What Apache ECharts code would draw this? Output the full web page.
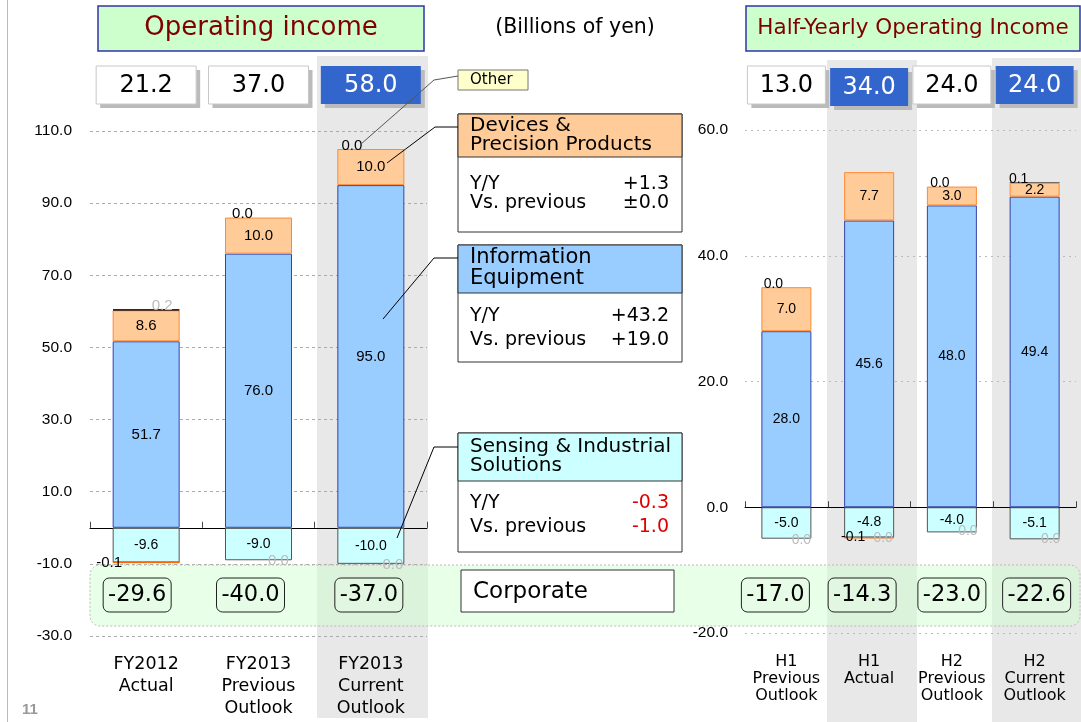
<!DOCTYPE html>
<html><head><meta charset="utf-8">
<script src="https://cdn.jsdelivr.net/npm/echarts@6/dist/echarts.min.js"></script>
<style>html,body{margin:0;padding:0;background:#fff}#c{width:1081px;height:722px}</style>
</head><body><div id="c"></div>
<script>
// ---------- data ----------
const leftCategories = ['FY2012\nActual', 'FY2013\nPrevious\nOutlook', 'FY2013\nCurrent\nOutlook'];
const rightCategories = ['H1\nPrevious\nOutlook', 'H1\nActual', 'H2\nPrevious\nOutlook', 'H2\nCurrent\nOutlook'];
const leftInfo = [51.7, 76.0, 95.0];
const leftDevices = [8.6, 10.0, 10.0];
const leftOther = [0.2, 0.0, 0.0];
const leftSensing = [-9.6, -9.0, -10.0];
const leftDevicesNeg = [-0.1, null, null];
const leftOtherNeg = [null, 0.0, 0.0];
const leftTotals = [21.2, 37.0, 58.0];
const leftCorporate = [-29.6, -40.0, -37.0];
const rightInfo = [28.0, 45.6, 48.0, 49.4];
const rightDevices = [7.0, 7.7, 3.0, 2.2];
const rightOther = [0.0, null, 0.0, 0.1];
const rightSensing = [-5.0, -4.8, -4.0, -5.1];
const rightDevicesNeg = [null, -0.1, null, null];
const rightOtherNeg = [0.0, 0.0, 0.0, 0.0];
const rightTotals = [13.0, 34.0, 24.0, 24.0];
const rightCorporate = [-17.0, -14.3, -23.0, -22.6];
const leftTicks = [-30, -10, 10, 30, 50, 70, 90, 110];
const rightTicks = [-20, 0, 20, 40, 60];
const devicesChange = ['+1.3', '±0.0'];
const infoChange = ['+43.2', '+19.0'];
const sensingChange = ['-0.3', '-1.0'];

// ---------- styles ----------
const DV = 'DejaVu Sans';
const AR = 'Liberation Sans, Arial';
const leftOtherOffset = [[16, 4], [-16, 4], [-19, 4]];
const leftOtherColor = ['#bbb', '#000', '#000'];
const leftOtherBorder = [1, 0, 0];
const leftDevNegOffset = [[-37, 0], null, null];
const leftOtherNegOffset = [null, [20, 1], [22, 1]];
const rightOtherOffset = [[-13, 4], null, [-12, 4], [-16, 4]];
const rightOtherColor = ['#000', '#000', '#000', '#000'];
const rightOtherBorder = [0, 0, 0, 0];
const rightDevNegOffset = [null, [-16, -1], null, null];
const rightOtherNegOffset = [[15, 1], [14, 0], [16, -1], [16, 0]];
const leftHighlight = [false, false, true];
const rightHighlight = [false, true, false, true];
const rightBoxDrop = [0, 2, 0, 0];
const leftCorpShift = [-9, -8, -2];
const rightCorpShift = [-11, -7, 0, 2];

const chart = echarts.init(document.getElementById('c'), null, {renderer: 'canvas'});

const fmt = p => (+p.value).toFixed(1);
function items(values, offsets, colors, borders) {
  return values.map((v, i) => {
    if (v == null) return '-';
    const it = {value: v};
    it.label = {};
    if (offsets && offsets[i]) it.label.offset = offsets[i];
    if (colors) it.label.color = colors[i];
    if (borders && borders[i]) it.itemStyle = {borderColor: '#000', borderWidth: borders[i]};
    return it;
  });
}
function bar(name, data, xi, yi, bw, style, label) {
  return {type: 'bar', name, data, xAxisIndex: xi, yAxisIndex: yi, stack: 'st' + yi, barWidth: bw,
    itemStyle: style, label: Object.assign({show: true, position: 'inside', fontFamily: AR, color: '#000', formatter: fmt}, label),
    emphasis: {disabled: true}, silent: true, animation: false};
}
const sInfo = {color: '#99ccff', borderColor: '#3344aa', borderWidth: 1};
const sDev = {color: '#ffcc99', borderColor: '#ff8833', borderWidth: 1};
const sOther = {color: '#000', borderWidth: 0};
const sSens = {color: '#ccffff', borderColor: '#555', borderWidth: 1};
const sDevNeg = {color: '#ff6600', borderColor: '#ff6600', borderWidth: 1};
const sOtherNeg = {color: 'rgba(0,0,0,0)', borderWidth: 0};

function seriesFor(xi, yi, bw, fs, d) {
  return [
    bar('Information Equipment', d.info, xi, yi, bw, sInfo, {fontSize: fs}),
    bar('Devices & Precision Products', d.dev, xi, yi, bw, sDev, {fontSize: fs}),
    bar('Other', items(d.other, d.otherOff, d.otherCol, d.otherBorder), xi, yi, bw, sOther, {position: 'top', distance: 0, fontSize: fs}),
    bar('Sensing & Industrial Solutions', d.sens, xi, yi, bw, sSens, {fontSize: 14}),
    bar('Devices & Precision Products (neg)', items(d.devNeg, d.devNegOff), xi, yi, bw, sDevNeg, {fontSize: fs}),
    bar('Other (neg)', items(d.otherNeg, d.otherNegOff), xi, yi, bw, sOtherNeg, {fontSize: fs, color: '#bbb'})
  ];
}

function xAxes(grid, cats, fs, lh, margin) {
  return [
    {type: 'category', gridIndex: grid, data: cats, position: 'top',
      axisLine: {onZero: true, lineStyle: {color: '#000', width: 1}},
      axisTick: {show: true, length: 6, lineStyle: {color: '#444'}},
      axisLabel: {show: false}, splitLine: {show: false}},
    {type: 'category', gridIndex: grid, data: cats, position: 'bottom',
      axisLine: {show: false, onZero: false}, axisTick: {show: false}, splitLine: {show: false},
      axisLabel: {interval: 0, color: '#000', fontSize: fs, lineHeight: lh, fontFamily: DV, margin: margin}}
  ];
}
function yAxis(grid, ticks, color, dash, margin) {
  return {type: 'value', gridIndex: grid, min: ticks[0], max: ticks[ticks.length - 1], interval: ticks[1] - ticks[0],
    axisLine: {show: false}, axisTick: {show: false},
    axisLabel: {formatter: v => v.toFixed(1), color: '#000', fontSize: 15.5, fontFamily: AR, margin: margin},
    splitLine: {show: true, lineStyle: {color: color, type: dash, width: 1}}};
}

chart.setOption({
  backgroundColor: '#fff',
  animation: false,
  grid: [
    {left: 90, top: 131, width: 337, height: 505, containLabel: false, outerBoundsMode: 'none'},
    {left: 745, top: 130, width: 331, height: 503, containLabel: false, outerBoundsMode: 'none'}
  ],
  xAxis: [].concat(xAxes(0, leftCategories, 17.5, 22, 17), xAxes(1, rightCategories, 16, 17, 20)),
  yAxis: [yAxis(0, leftTicks, '#aaa', [3, 3], 18), yAxis(1, rightTicks, '#bbb', [2, 4], 17)],
  series: [].concat(
    seriesFor(0, 0, 67, 15, {info: leftInfo, dev: leftDevices, other: leftOther, otherOff: leftOtherOffset, otherCol: leftOtherColor, otherBorder: leftOtherBorder,
      sens: leftSensing, devNeg: leftDevicesNeg, devNegOff: leftDevNegOffset, otherNeg: leftOtherNeg, otherNegOff: leftOtherNegOffset}),
    seriesFor(2, 1, 50, 14, {info: rightInfo, dev: rightDevices, other: rightOther, otherOff: rightOtherOffset, otherCol: rightOtherColor, otherBorder: rightOtherBorder,
      sens: rightSensing, devNeg: rightDevicesNeg, devNegOff: rightDevNegOffset, otherNeg: rightOtherNeg, otherNegOff: rightOtherNegOffset})
  )
});

// ---------- decorations ----------
function T(text, x, y, size, opts) {
  const o = Object.assign({align: 'left', verticalAlign: 'middle', fill: '#000', fontFamily: DV}, opts || {});
  return {type: 'text', z: 20, silent: true, style: Object.assign({text, x, y, fontSize: size,
    textAlign: o.align, textVerticalAlign: o.verticalAlign}, o)};
}
function R(x, y, w, h, fill, stroke, opts, z) {
  return {type: 'rect', z: z == null ? 15 : z, silent: true, shape: {x, y, width: w, height: h, r: (opts && opts.r) || 0},
    style: Object.assign({fill: fill, stroke: stroke || null, lineWidth: 1}, opts || {})};
}
function L(points, color) {
  return {type: 'polyline', z: 18, silent: true, shape: {points}, style: {stroke: color || '#000', lineWidth: 1, fill: null}};
}

const g = [];
// shaded columns
g.push(R(317, 56, 111, 662, '#e8e8e8', null, null, -10));
g.push(R(827, 60, 90, 662, '#e8e8e8', null, null, -10));
g.push(R(992, 58, 89, 664, '#e8e8e8', null, null, -10));
// slide border
g.push({type: 'line', z: 1, silent: true, shape: {x1: 7.5, y1: 0, x2: 7.5, y2: 722}, style: {stroke: '#bbb', lineWidth: 1}});
// corporate band
g.push(R(90, 565, 990, 61, 'rgba(204,255,204,0.45)', '#bbb', {lineDash: [2, 2], r: 10}, 1));
// titles
g.push(R(98, 6, 326, 45, '#ccffcc', '#3333aa', {lineWidth: 1.5}));
g.push(T('Operating income', 261, 28.5, 26, {align: 'center', fill: '#800000'}));
g.push(R(746, 6, 334, 45, '#ccffcc', '#3333aa', {lineWidth: 1.5}));
g.push(T('Half-Yearly Operating Income', 913, 28.5, 21.5, {align: 'center', fill: '#800000'}));
g.push(T('(Billions of yen)', 575, 28, 20.5, {align: 'center'}));
g.push(T('11', 22, 710, 15, {fontWeight: 'bold', fill: '#999', fontFamily: AR}));

// totals and corporate boxes
function totalsBoxes(xi, totals, highlight, drop, w, corp, shift) {
  totals.forEach((v, i) => {
    const cx = chart.convertToPixel({xAxisIndex: xi}, i);
    const y = 66 + (drop ? drop[i] : 0);
    g.push(R(cx - w / 2 + 4, y + 4, w, 38, '#bbb', null));
    if (highlight[i]) {
      g.push(R(cx - w / 2, y, w, 38, '#3366cc', null));
      g.push(T(v.toFixed(1), cx, y + 19.5, 24, {align: 'center', fill: '#fff'}));
    } else {
      g.push(R(cx - w / 2, y, w, 38, '#fff', '#c8c8c8'));
      g.push(T(v.toFixed(1), cx, y + 19.5, 24, {align: 'center'}));
    }
  });
  corp.forEach((v, i) => {
    const cx = chart.convertToPixel({xAxisIndex: xi}, i) + shift[i];
    g.push(R(cx - 34, 578, 68, 34, 'rgba(230,250,230,0.6)', '#222', {r: 6}));
    g.push(T(v.toFixed(1), cx, 595.5, 22.5, {align: 'center'}));
  });
}
totalsBoxes(1, leftTotals, leftHighlight, null, 100, leftCorporate, leftCorpShift);
totalsBoxes(3, rightTotals, rightHighlight, rightBoxDrop, 78, rightCorporate, rightCorpShift);

// Other callout
g.push(R(458, 70, 70, 20, '#ffffcc', '#777'));
g.push(T('Other', 470, 80.5, 15));
g.push(L([[361, 144], [434, 80], [458, 76]], '#555'));
// Devices callout
g.push(R(458, 114, 224, 118, '#fff', '#333'));
g.push(R(458, 114, 224, 43, '#ffcc99', '#333'));
g.push(T('Devices &\nPrecision Products', 470, 135.5, 20, {lineHeight: 19}));
g.push(T('Y/Y', 470, 184, 19));
g.push(T('Vs. previous', 470, 203, 19));
g.push(T(devicesChange[0], 669, 184, 19, {align: 'right'}));
g.push(T(devicesChange[1], 669, 203, 19, {align: 'right'}));
g.push(L([[387, 163], [435, 127], [458, 127]]));
// Info callout
g.push(R(458, 245, 224, 117, '#fff', '#333'));
g.push(R(458, 245, 224, 48, '#99ccff', '#333'));
g.push(T('Information\nEquipment', 470, 268.5, 21, {lineHeight: 21}));
g.push(T('Y/Y', 470, 316, 19));
g.push(T('Vs. previous', 470, 340, 19));
g.push(T(infoChange[0], 669, 316, 19, {align: 'right'}));
g.push(T(infoChange[1], 669, 340, 19, {align: 'right'}));
g.push(L([[383, 319], [434, 258], [458, 258]]));
// Sensing callout
g.push(R(458, 433, 224, 119, '#fff', '#333'));
g.push(R(458, 433, 224, 48, '#ccffff', '#333'));
g.push(T('Sensing & Industrial\nSolutions', 470, 456.5, 20, {lineHeight: 19}));
g.push(T('Y/Y', 470, 503, 19));
g.push(T('Vs. previous', 470, 527, 19));
g.push(T(sensingChange[0], 669, 503, 19, {align: 'right', fill: '#e00000'}));
g.push(T(sensingChange[1], 669, 527, 19, {align: 'right', fill: '#e00000'}));
g.push(L([[397, 538], [434, 447], [458, 447]]));
// Corporate label
g.push(R(461, 570, 213, 42, '#fff', '#333'));
g.push(T('Corporate', 473, 592, 23));

chart.setOption({graphic: {elements: g}});
</script>
</body></html>
